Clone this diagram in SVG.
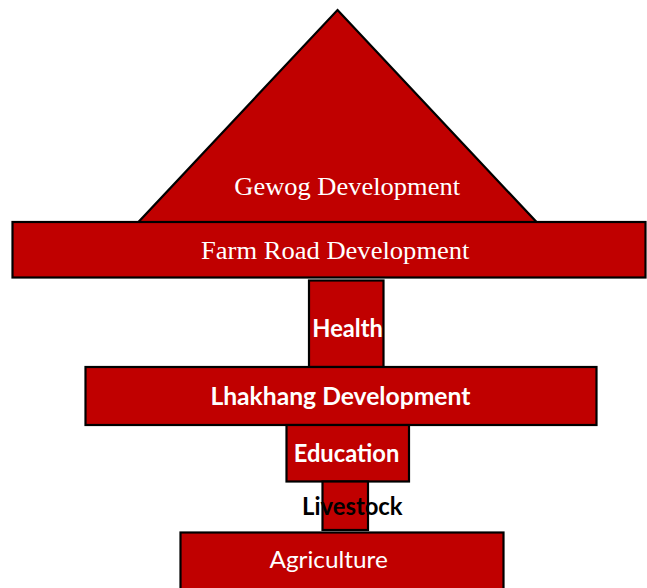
<svg xmlns="http://www.w3.org/2000/svg" width="647" height="588" viewBox="0 0 647 588">
<style>
.box{fill:#C00000;stroke:#000;stroke-width:2.2}
.serif{font-family:"Liberation Serif","Times New Roman",serif;font-size:26px;fill:#fff}
.bold{font-family:Lato,"Noto Sans",sans-serif;font-weight:bold;font-size:25px;fill:#fff}
.reg{font-family:Lato,"Noto Sans",sans-serif;font-size:24px;fill:#fff}
</style>
<rect width="647" height="588" fill="#fff"/>
<g id="connectors"></g>
<g id="gewog">
<polygon class="box" points="337.5,10 536.5,222 138.5,222"/>
<text class="serif" x="234.3" y="195" textLength="225.7" lengthAdjust="spacingAndGlyphs">Gewog Development</text>
</g>
<g id="farmroad">
<rect class="box" x="12.5" y="222" width="633" height="55.5"/>
<text class="serif" x="201" y="259" textLength="268.5" lengthAdjust="spacingAndGlyphs">Farm Road Development</text>
</g>
<g id="health">
<rect class="box" x="309" y="280.5" width="74.5" height="86.5"/>
<text class="bold" x="312.3" y="336.7" textLength="70.5" lengthAdjust="spacingAndGlyphs">Health</text>
</g>
<g id="lhakhang">
<rect class="box" x="85.5" y="367" width="511" height="58"/>
<text class="bold" x="210.4" y="405" textLength="260" lengthAdjust="spacingAndGlyphs">Lhakhang Development</text>
</g>
<g id="education">
<rect class="box" x="286.5" y="425" width="122.5" height="56.5"/>
<text class="bold" x="293.7" y="461.7" textLength="105.6" lengthAdjust="spacingAndGlyphs">Education</text>
</g>
<g id="livestock">
<rect class="box" x="322.5" y="481.5" width="45.5" height="48.5"/>
<text class="bold" x="302" y="515" textLength="100.6" lengthAdjust="spacingAndGlyphs" style="fill:#000">Livestock</text>
</g>
<g id="agriculture">
<rect class="box" x="180.5" y="532.5" width="323" height="60"/>
<text class="reg" x="269.4" y="567.7" textLength="118.4" lengthAdjust="spacingAndGlyphs">Agriculture</text>
</g>
</svg>
